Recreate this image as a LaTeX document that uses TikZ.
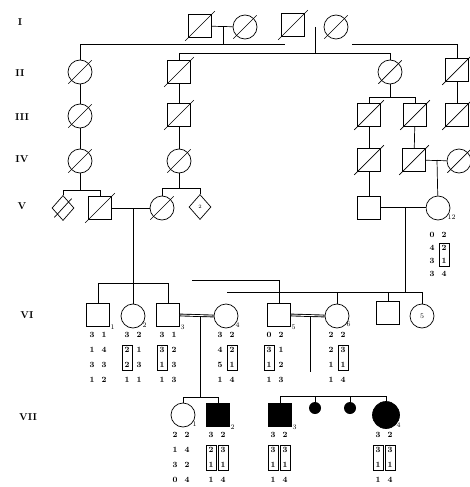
\documentclass[tikz,border=0pt]{standalone}
\usepackage{tikz}
\usetikzlibrary{shapes.geometric, positioning, fit}

% haplotype: name, x, first row y, row gap, rows l/r
\newcommand{\haplo}[5]{%
  \foreach \l/\r [count=\i] in {#5} {
    \node[hap] (#1l\i) at (#2-6, #3+#4*\i-#4) {\l};
    \node[hap] (#1r\i) at (#2+6, #3+#4*\i-#4) {\r};
  }}

\begin{document}
\begin{tikzpicture}[
  x=1pt, y=-1pt,
  line width=0.7pt,
  male/.style={rectangle, draw, minimum size=23pt, inner sep=0pt},
  female/.style={circle, draw, minimum size=24pt, inner sep=0pt},
  unknown/.style={diamond, draw, minimum width=22pt, minimum height=25pt, inner sep=0pt, font=\tiny},
  affected/.style={fill=black},
  gen/.style={font=\normalsize\bfseries},
  idno/.style={font=\scriptsize, inner sep=0.5pt, anchor=west},
  hap/.style={font=\footnotesize\bfseries, inner sep=0.5pt},
  hbox/.style={draw, inner sep=1.5pt, line width=0.6pt},
  mate/.style={double, double distance=0.9pt, line width=0.9pt},
]
\useasboundingbox (0,0) rectangle (470,487);

% generation labels
\node[gen] (gI) at (20,22) {I};
\node[gen] (gII) at (20,73) {II};
\node[gen] (gIII) at (22,117) {III};
\node[gen] (gIV) at (22,159) {IV};
\node[gen] (gV) at (22,206) {V};
\node[gen] (gVI) at (27,315) {VI};
\node[gen] (gVII) at (28,417) {VII};

% generation I
\node[male] (I1) at (200,26) {};
\node[female] (I2) at (245,27) {};
\node[male] (I3) at (293,25) {};
\node[female] (I4) at (336,27) {};

% generation II
\node[female] (II1) at (80,72) {};
\node[male] (II2) at (179,72) {};
\node[female] (II3) at (390,72) {};
\node[male] (II4) at (457,70) {};

% generation III
\node[female] (III1) at (80,116) {};
\node[male] (III2) at (179,115) {};
\node[male] (III3) at (369,115) {};
\node[male] (III4) at (415,115) {};
\node[male] (III5) at (457,115) {};

% generation IV
\node[female] (IV1) at (80,161) {};
\node[female] (IV2) at (179,161) {};
\node[male] (IV3) at (369,160) {};
\node[male] (IV4) at (414,160) {};
\node[female] (IV5) at (459,161) {};

% generation V
\node[unknown] (V1) at (63,208) {};
\node[male] (V2) at (100,208) {};
\node[female] (V3) at (162,208) {};
\node[unknown] (V4) at (200,207) {2};
\node[male] (V5) at (369,208) {};
\node[female] (V6) at (438,208) {};

% generation VI
\node[male] (VI1) at (98,315) {};
\node[female] (VI2) at (133,316) {};
\node[male] (VI3) at (168,315) {};
\node[female] (VI4) at (226,316) {};
\node[male] (VI5) at (279,315) {};
\node[female] (VI6) at (337,316) {};
\node[male] (VI7) at (388,313) {};
\node[female] (VI8) at (422,316) {\scriptsize 5};

% generation VII
\node[female] (VII1) at (183,415) {};
\node[male, affected] (VII2) at (218,415) {};
\node[male, affected] (VII3) at (280,415) {};
\node[circle, affected, minimum size=12pt, inner sep=0pt] (VIIa) at (315,408) {};
\node[circle, affected, minimum size=12pt, inner sep=0pt] (VIIb) at (350,408) {};
\node[female, affected, minimum size=27pt] (VII4) at (386,415) {};

% deceased
\foreach \n in {I1,I2,I3,I4,II1,II2,II3,II4,III1,III2,III3,III4,III5,
                IV1,IV2,IV3,IV4,IV5,V1,V2,V3}
  \draw ([shift={(-3,3)}]\n.south west) -- ([shift={(3,-3)}]\n.north east);

% I -> II
\draw (I1) -- (I2);
\coordinate (c1) at (223,27);
\coordinate (s1) at (223,44);
\coordinate (s1a) at (285,44);
\coordinate (s1b) at (352,44);
\draw (c1) -- (s1);
\draw (II1.north) -- (II1.north |- s1) -- (s1a);
\draw (s1b) -- (II4.north |- s1) -- (II4.north);
\coordinate (c2) at (315,27);
\coordinate (s2) at (315,53);
\draw (c2) -- (s2);
\draw (II2.north) -- (II2.north |- s2) -- (II3.north |- s2) -- (II3.north);

% II -> III
\draw (II1) -- (III1);
\draw (II2) -- (III2);
\draw (II4) -- (III5);
\coordinate (s3) at (390,97);
\draw (II3) -- (s3);
\draw (III3.north) -- (III3.north |- s3) -- (III4.north |- s3) -- (III4.north);

% III -> IV
\draw (III1) -- (IV1);
\draw (III2) -- (IV2);
\draw (III3) -- (IV3);
\draw (III4) -- (IV4);
\draw (IV4) -- (IV5);

% IV -> V
\coordinate (s4) at (80,190);
\draw (IV1) -- (s4);
\draw (V1.north) -- (V1.north |- s4) -- (V2.north |- s4) -- (V2.north);
\coordinate (s5) at (179,188);
\draw (IV2) -- (s5);
\draw (V3.north) -- (V3.north |- s5) -- (V4.north |- s5) -- (V4.north);
\draw (IV3) -- (V5);
\coordinate (c7) at (437,160);
\draw (c7) -- (V6);

% V -> VI
\draw (V2) -- (V3);
\coordinate (c6) at (133,208);
\coordinate (s6) at (133,283);
\draw (c6) -- (s6);
\draw (VI1.north) -- (VI1.north |- s6) -- (VI3.north |- s6) -- (VI3.north);
\draw (VI2.north) -- (VI2.north |- s6);
\draw[mate] (V5.east) -- (V6.west);
\coordinate (c8) at (405,208);
\coordinate (s8) at (405,292);
\draw (c8) -- (s8);
\coordinate (s9) at (192,280);
\draw (s9) -| (VI5.north);
\coordinate (s10) at (227,292);
\draw (s10) -- (VI8.north |- s10) -- (VI8.north);
\draw (VI6.north) -- (VI6.north |- s10);
\draw (VI7.north) -- (VI7.north |- s10);

% VI -> VII
\draw[mate] (VI3.east) -- (VI4.west);
\draw[mate] (VI5.east) -- (VI6.west);
\coordinate (c11) at (200,316);
\coordinate (s11) at (200,397);
\draw (c11) -- (s11);
\draw (VII1.north) -- (VII1.north |- s11) -- (VII2.north |- s11) -- (VII2.north);
\coordinate (c12) at (310,316);
\coordinate (e12) at (310,372);
\draw (c12) -- (e12);
\coordinate (s13) at (280,396);
\draw (VII3.north) -- (VII3.north |- s13) -- (VII4.north |- s13) -- (VII4.north);
\draw (VIIa) -- (VIIa |- s13);
\draw (VIIb) -- (VIIb |- s13);

% individual numbers
\node[idno] (nV6) at (V6.south east) {12};
\node[idno] (nVI1) at (VI1.south east) {1};
\node[idno] (nVI2) at (VI2.south east) {2};
\node[idno] (nVI3) at (VI3.south east) {3};
\node[idno] (nVI4) at (VI4.south east) {4};
\node[idno] (nVI5) at (VI5.south east) {5};
\node[idno] (nVI6) at (VI6.south east) {6};
\node[idno] (nVII1) at (VII1.south east) {1};
\node[idno] (nVII2) at (VII2.south east) {2};
\node[idno] (nVII3) at (VII3.south east) {3};
\node[idno] (nVII4) at (VII4.south east) {4};

% haplotypes
\haplo{V6}{438}{235}{13}{0/2,4/2,3/1,3/4}
\haplo{VI1}{98}{335}{15}{3/1,1/4,3/3,1/2}
\haplo{VI2}{133}{335}{15}{3/2,2/1,2/3,1/1}
\haplo{VI3}{168}{335}{15}{3/1,3/2,1/3,1/3}
\haplo{VI4}{226}{335}{15}{3/2,4/2,5/1,1/4}
\haplo{VI5}{275}{335}{15}{0/2,3/1,1/2,1/3}
\haplo{VI6}{337}{335}{15}{2/2,2/3,1/1,1/4}
\haplo{VII1}{181}{435}{15}{2/2,1/4,3/2,0/4}
\haplo{VII2}{217}{435}{15}{3/2,2/3,1/1,1/4}
\haplo{VII3}{279}{435}{15}{3/2,3/3,1/1,1/4}
\haplo{VII4}{384}{435}{15}{3/2,3/3,1/1,1/4}

\node[hbox, fit=(V6r2)(V6r3)] (bV6) {};
\node[hbox, fit=(VI2l2)(VI2l3)] (bVI2) {};
\node[hbox, fit=(VI3l2)(VI3l3)] (bVI3) {};
\node[hbox, fit=(VI4r2)(VI4r3)] (bVI4) {};
\node[hbox, fit=(VI5l2)(VI5l3)] (bVI5) {};
\node[hbox, fit=(VI6r2)(VI6r3)] (bVI6) {};
\foreach \n in {VII2,VII3,VII4} {
  \node[hbox, fit=(\n l2)(\n l3)] (b\n l) {};
  \node[hbox, fit=(\n r2)(\n r3)] (b\n r) {};
}
\end{tikzpicture}
\end{document}
